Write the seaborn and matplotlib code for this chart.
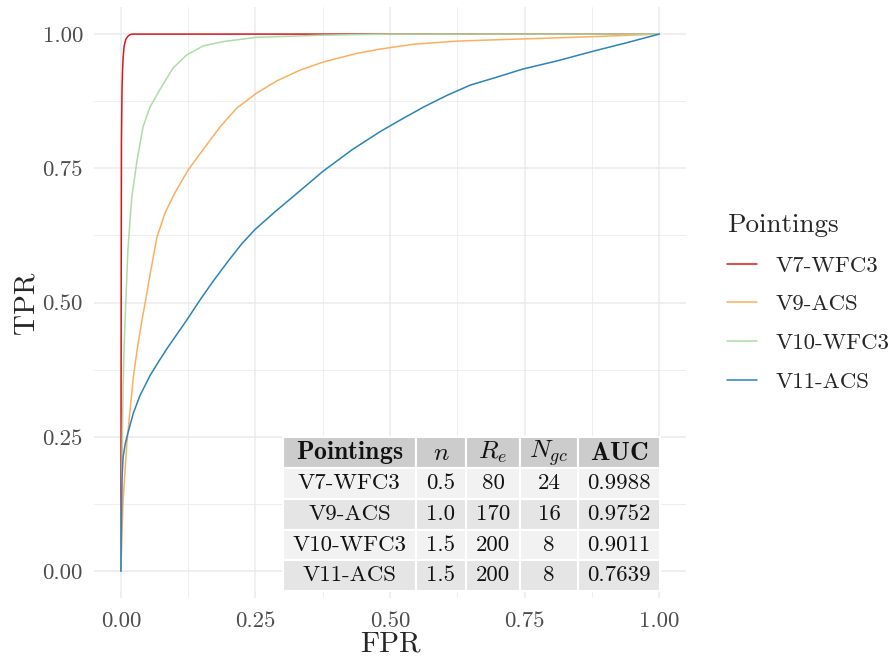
import matplotlib
matplotlib.use("Agg")
import matplotlib.pyplot as plt
import pandas as pd
import seaborn as sns

sns.set_theme(style="whitegrid")
plt.rcParams['font.family'] = ['cmr10', 'DejaVu Serif']
plt.rcParams['mathtext.fontset'] = 'cm'
plt.rcParams['axes.formatter.use_mathtext'] = True

# ROC curves
pointings = ["V7-WFC3", "V9-ACS", "V10-WFC3", "V11-ACS"]
colors = ["#d7191c", "#fdae61", "#abdda4", "#2b83ba"]

fpr_v7 = [0, 0.0005, 0.001, 0.002, 0.003, 0.004, 0.006, 0.009, 0.013, 0.017, 0.022, 1.0]
tpr_v7 = [0, 0.5, 0.8, 0.895, 0.93, 0.955, 0.978, 0.99, 0.996, 0.999, 1.0, 1.0]

fpr_v9 = [0, 0.002, 0.004, 0.011, 0.023, 0.030, 0.039, 0.045, 0.052, 0.058, 0.067,
          0.082, 0.1, 0.125, 0.152, 0.184, 0.215, 0.252, 0.29, 0.333, 0.376, 0.438,
          0.481, 0.543, 0.625, 0.747, 0.872, 1.0]
tpr_v9 = [0, 0.07, 0.13, 0.238, 0.361, 0.411, 0.467, 0.499, 0.54, 0.573, 0.622,
          0.667, 0.704, 0.747, 0.784, 0.827, 0.862, 0.89, 0.913, 0.933, 0.948, 0.964,
          0.972, 0.981, 0.987, 0.991, 0.995, 1.0]

fpr_v10 = [0, 0.001, 0.002, 0.004, 0.006, 0.009, 0.013, 0.02, 0.03, 0.041, 0.054,
           0.072, 0.097, 0.122, 0.153, 0.19, 0.252, 0.376, 0.5, 1.0]
tpr_v10 = [0, 0.1, 0.19, 0.34, 0.42, 0.5, 0.598, 0.695, 0.765, 0.827, 0.864,
           0.896, 0.937, 0.961, 0.978, 0.986, 0.994, 0.998, 1.0, 1.0]

fpr_v11 = [0, 0.001, 0.002, 0.004, 0.008, 0.013, 0.023, 0.035, 0.054, 0.07, 0.086,
           0.104, 0.122, 0.145, 0.17, 0.199, 0.225, 0.249, 0.285, 0.323, 0.376, 0.43,
           0.481, 0.519, 0.562, 0.606, 0.649, 0.699, 0.747, 0.81, 0.877, 0.94, 1.0]
tpr_v11 = [0, 0.1, 0.17, 0.212, 0.237, 0.257, 0.294, 0.326, 0.364, 0.39, 0.415,
           0.441, 0.467, 0.502, 0.538, 0.577, 0.61, 0.636, 0.668, 0.70, 0.745, 0.785,
           0.818, 0.840, 0.864, 0.886, 0.905, 0.92, 0.935, 0.95, 0.968, 0.984, 1.0]

# table values
tab_n = ["0.5", "1.0", "1.5", "1.5"]
tab_re = ["80", "170", "200", "200"]
tab_ngc = ["24", "16", "8", "8"]
tab_auc = ["0.9988", "0.9752", "0.9011", "0.7639"]

curves = [(fpr_v7, tpr_v7), (fpr_v9, tpr_v9), (fpr_v10, tpr_v10), (fpr_v11, tpr_v11)]
frames = []
for name, (f, t) in zip(pointings, curves):
    frames.append(pd.DataFrame({"FPR": f, "TPR": t, "Pointings": name}))
df = pd.concat(frames, ignore_index=True)

fig = plt.figure(figsize=(8.91, 6.58), dpi=100)
ax = fig.add_axes([0.1055, 0.0912, 0.6645, 0.8978])

sns.lineplot(data=df, x="FPR", y="TPR", hue="Pointings", hue_order=pointings,
             palette=colors, estimator=None, sort=False, linewidth=1.1, ax=ax)

ax.set_xlim(-0.05, 1.05)
ax.set_ylim(-0.05, 1.05)
ticks = [0, 0.25, 0.5, 0.75, 1.0]
ax.set_xticks(ticks)
ax.set_yticks(ticks)
ax.set_xticklabels(["%.2f" % v for v in ticks])
ax.set_yticklabels(["%.2f" % v for v in ticks])
ax.set_xticks([0.125, 0.375, 0.625, 0.875], minor=True)
ax.set_yticks([0.125, 0.375, 0.625, 0.875], minor=True)
ax.set_facecolor("white")
ax.set_axisbelow(True)
ax.grid(which="major", color="#ebebeb", linewidth=1.1)
ax.grid(which="minor", color="#ebebeb", linewidth=0.6)
for s in ax.spines.values():
    s.set_visible(False)
ax.tick_params(axis="both", which="both", length=0, labelsize=16.5, labelcolor="#4d4d4d")
ax.tick_params(axis="x", pad=10)
ax.tick_params(axis="y", pad=8)
ax.set_xlabel("FPR", fontsize=21, labelpad=0)
ax.set_ylabel("TPR", fontsize=21, labelpad=2)

leg = ax.legend(title="Pointings", loc="center left", bbox_to_anchor=(1.035, 0.5),
                frameon=False, fontsize=16.5, title_fontsize=19.5, handlelength=1.3,
                labelspacing=0.82, handletextpad=0.8)
leg._legend_box.align = "left"

# summary table
cell_text = [[p, a, b, c, d] for p, a, b, c, d in zip(pointings, tab_n, tab_re, tab_ngc, tab_auc)]
col_labels = [r"$\mathbf{Pointings}$", "$n$", "$R_e$", "$N_{gc}$", r"$\mathbf{AUC}$"]
row_cols = ["#f2f2f2", "#e5e5e5", "#f2f2f2", "#e5e5e5"]
cell_colours = [[c] * 5 for c in row_cols]
widths = [133, 50, 54, 58, 82]
tot = sum(widths)
tbl = ax.table(cellText=cell_text, colLabels=col_labels, cellColours=cell_colours,
               colColours=["#cccccc"] * 5, colWidths=[w / tot for w in widths],
               cellLoc="center", bbox=[0.319, 0.0118, 0.637, 0.26])
tbl.set_zorder(5)
tbl.auto_set_font_size(False)
tbl.set_fontsize(16.5)
for (r, c), cell in tbl.get_celld().items():
    cell.set_edgecolor("white")
    cell.set_linewidth(1.5)
    cell.get_text().set_color("#111111")
    if r == 0:
        cell.get_text().set_fontsize(18.5)

fig.savefig("out.png", dpi=100)
